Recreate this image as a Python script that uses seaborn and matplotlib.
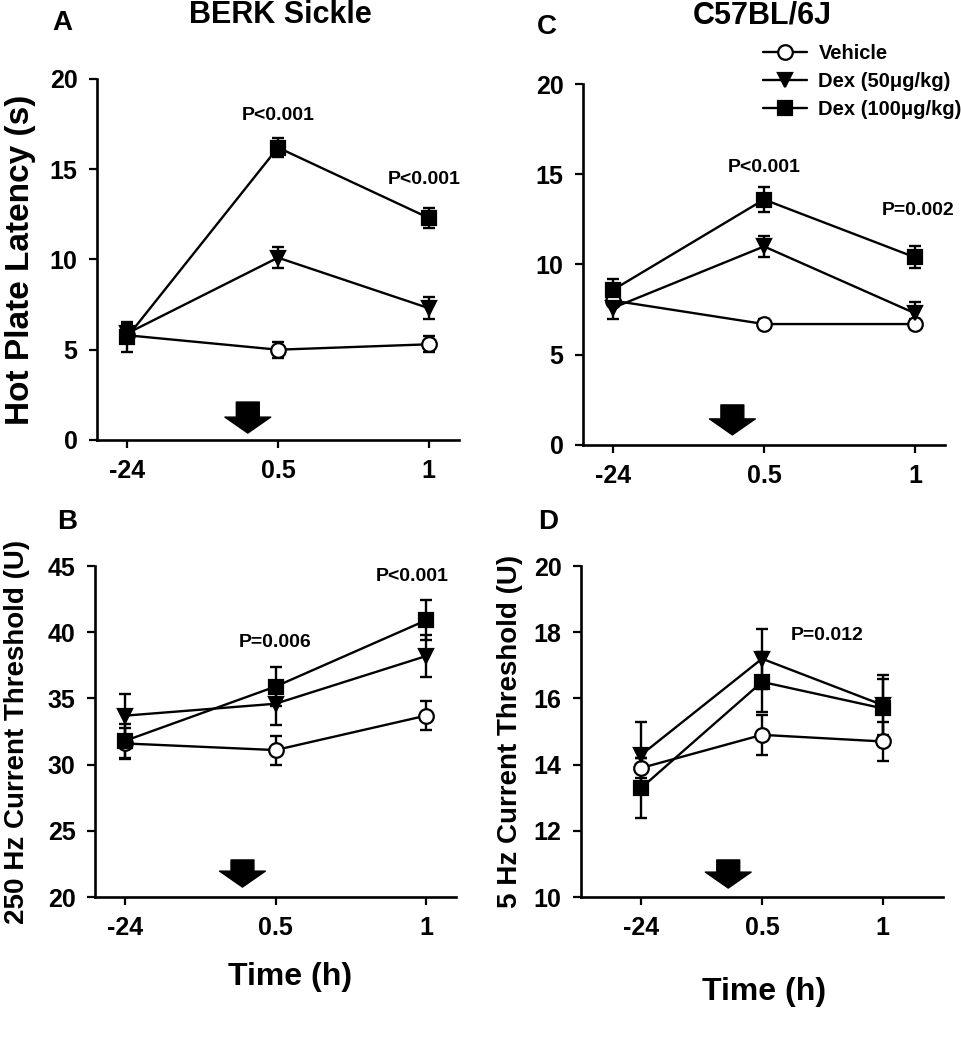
import numpy as np
import pandas as pd
import seaborn as sns
import matplotlib
matplotlib.use("Agg")
import matplotlib.pyplot as plt
from matplotlib.lines import Line2D

# ---------------- data ----------------
time_labels = ["-24", "0.5", "1"]
groups = ["Vehicle", "Dex (50μg/kg)", "Dex (100μg/kg)"]

# Panel A: BERK Sickle, hot plate latency (s)
a_vehicle = [5.8, 5.0, 5.3]
a_vehicle_err = [0.4, 0.45, 0.45]
a_dex50 = [5.9, 10.1, 7.3]
a_dex50_err = [0.5, 0.6, 0.6]
a_dex100 = [5.7, 16.2, 12.3]
a_dex100_err = [0.85, 0.55, 0.55]

# Panel C: C57BL/6J, hot plate latency (s)
c_vehicle = [8.0, 6.7, 6.7]
c_vehicle_err = [0.3, 0.3, 0.3]
c_dex50 = [7.6, 11.0, 7.3]
c_dex50_err = [0.6, 0.6, 0.6]
c_dex100 = [8.6, 13.6, 10.4]
c_dex100_err = [0.6, 0.7, 0.6]

# Panel B: BERK Sickle, 250 Hz current threshold (U)
b_vehicle = [31.6, 31.1, 33.7]
b_vehicle_err = [1.2, 1.1, 1.1]
b_dex50 = [33.7, 34.6, 38.2]
b_dex50_err = [1.6, 1.6, 1.6]
b_dex100 = [31.8, 35.9, 40.9]
b_dex100_err = [1.3, 1.5, 1.5]

# Panel D: C57BL/6J, 5 Hz current threshold (U)
d_vehicle = [13.9, 14.9, 14.7]
d_vehicle_err = [0.3, 0.6, 0.6]
d_dex50 = [14.3, 17.2, 15.8]
d_dex50_err = [1.0, 0.9, 0.9]
d_dex100 = [13.3, 16.5, 15.7]
d_dex100_err = [0.9, 0.9, 0.9]

# p-value annotations: (x position in category units, y value, text)
a_pvals = [(1.0, 18.0, "P<0.001"), (1.97, 14.45, "P<0.001")]
c_pvals = [(1.0, 15.35, "P<0.001"), (2.02, 13.0, "P=0.002")]
b_pvals = [(1.0, 39.2, "P=0.006"), (1.91, 44.2, "P<0.001")]
d_pvals = [(1.54, 17.9, "P=0.012")]

# ---------------- style ----------------
sns.set_theme(style="ticks")
plt.rcParams["font.family"] = ["Liberation Sans", "DejaVu Sans"]
plt.rcParams["font.weight"] = "bold"
plt.rcParams["axes.labelweight"] = "bold"
plt.rcParams["axes.titleweight"] = "bold"
plt.rcParams["text.color"] = "black"
plt.rcParams["axes.labelcolor"] = "black"
plt.rcParams["xtick.color"] = "black"
plt.rcParams["ytick.color"] = "black"
plt.rcParams["axes.edgecolor"] = "black"

markers = {"Vehicle": "o", "Dex (50μg/kg)": "v", "Dex (100μg/kg)": "s"}
faces = {"Vehicle": "white", "Dex (50μg/kg)": "black", "Dex (100μg/kg)": "black"}
msize = {"Vehicle": 10.5, "Dex (50μg/kg)": 10.5, "Dex (100μg/kg)": 10}


def make_df(vals, errs):
    rows = []
    for g, v, e in zip(groups, vals, errs):
        for i, t in enumerate(time_labels):
            rows.append({"pos": i, "time": t, "value": v[i], "err": e[i], "group": g})
    return pd.DataFrame(rows)


fig = plt.figure(figsize=(9.61, 10.5), dpi=100)

panels = [
    dict(rect=[0.1009, 0.5810, 0.3767, 0.3438],
         df=make_df([a_vehicle, a_dex50, a_dex100], [a_vehicle_err, a_dex50_err, a_dex100_err]),
         ylim=(0, 20), yticks=[0, 5, 10, 15, 20], xlim=(-0.2, 2.2),
         ylabel="Hot Plate Latency (s)", ylab_x=-0.21, ylab_size=24, xlabel=None,
         title="BERK Sickle", title_pos=(0.506, 1.177), letter="A", letter_pos=(-0.097, 1.155),
         arrow_x=0.8, arrow_y=(0.105, 0.019), pvals=a_pvals),
    dict(rect=[0.6067, 0.5762, 0.3767, 0.3438],
         df=make_df([c_vehicle, c_dex50, c_dex100], [c_vehicle_err, c_dex50_err, c_dex100_err]),
         ylim=(0, 20), yticks=[0, 5, 10, 15, 20], xlim=(-0.2, 2.2),
         ylabel=None, ylab_x=None, ylab_size=None, xlabel=None,
         title="C57BL/6J", title_pos=(0.494, 1.191), letter="C", letter_pos=(-0.099, 1.158),
         arrow_x=0.79, arrow_y=(0.111, 0.028), pvals=c_pvals),
    dict(rect=[0.0989, 0.1457, 0.3757, 0.3152],
         df=make_df([b_vehicle, b_dex50, b_dex100], [b_vehicle_err, b_dex50_err, b_dex100_err]),
         ylim=(20, 45), yticks=[20, 25, 30, 35, 40, 45], xlim=(-0.2, 2.2),
         ylabel="250 Hz Current Threshold (U)", ylab_x=-0.216, ylab_size=20,
         xlabel="Time (h)", xlab_pos=(0.54, -0.242),
         title=None, letter="B", letter_pos=(-0.078, 1.133),
         arrow_x=0.78, arrow_y=(0.112, 0.030), pvals=b_pvals),
    dict(rect=[0.6046, 0.1457, 0.3767, 0.3152],
         df=make_df([d_vehicle, d_dex50, d_dex100], [d_vehicle_err, d_dex50_err, d_dex100_err]),
         ylim=(10, 20), yticks=[10, 12, 14, 16, 18, 20], xlim=(-0.5, 2.5),
         ylabel="5 Hz Current Threshold (U)", ylab_x=-0.196, ylab_size=20,
         xlabel="Time (h)", xlab_pos=(0.506, -0.287),
         title=None, letter="D", letter_pos=(-0.091, 1.133),
         arrow_x=0.72, arrow_y=(0.112, 0.027), pvals=d_pvals),
]

for p in panels:
    ax = fig.add_axes(p["rect"])
    df = p["df"]
    for g in groups:
        sub = df[df["group"] == g]
        ax.errorbar(sub["pos"], sub["value"], yerr=sub["err"], fmt="none",
                    ecolor="black", elinewidth=1.7, capsize=4.5, capthick=1.7, zorder=2)
    for g in groups:
        sub = df[df["group"] == g]
        sns.lineplot(data=sub, x="pos", y="value", ax=ax, color="black",
                     marker=markers[g], markersize=msize[g], markerfacecolor=faces[g],
                     markeredgecolor="black", markeredgewidth=1.6, linewidth=1.7,
                     errorbar=None, legend=False, zorder=3)

    ax.set_xlim(*p["xlim"])
    ax.set_ylim(*p["ylim"])
    ax.set_xticks(range(len(time_labels)))
    ax.set_xticklabels(time_labels)
    ax.set_yticks(p["yticks"])
    ax.tick_params(axis="both", direction="out", length=6, width=1.6,
                   labelsize=18, pad=8, colors="black")
    for lab in ax.get_xticklabels() + ax.get_yticklabels():
        lab.set_fontweight("bold")
    sns.despine(ax=ax)
    for s in ["left", "bottom"]:
        ax.spines[s].set_linewidth(1.9)
        ax.spines[s].set_color("black")

    if p["ylabel"]:
        ax.set_ylabel(p["ylabel"], fontsize=p["ylab_size"], fontweight="bold", va="center")
        ax.yaxis.set_label_coords(p["ylab_x"], 0.5)
    else:
        ax.set_ylabel("")
    if p["xlabel"]:
        ax.set_xlabel(p["xlabel"], fontsize=23, fontweight="bold", va="center")
        ax.xaxis.set_label_coords(*p["xlab_pos"])
    else:
        ax.set_xlabel("")

    if p["title"]:
        ax.text(*p["title_pos"], p["title"], transform=ax.transAxes, ha="center",
                va="center", fontsize=22, fontweight="bold")
    ax.text(*p["letter_pos"], p["letter"], transform=ax.transAxes, ha="center",
            va="center", fontsize=20, fontweight="bold")

    for (px, py, s) in p["pvals"]:
        ax.text(px, py, s, ha="center", va="center", fontsize=14, fontweight="bold")

    ax.annotate("", xy=(p["arrow_x"], p["arrow_y"][1]), xytext=(p["arrow_x"], p["arrow_y"][0]),
                xycoords=("data", "axes fraction"), textcoords=("data", "axes fraction"),
                arrowprops=dict(arrowstyle="simple,head_length=1.15,head_width=3.3,tail_width=1.65",
                                mutation_scale=10, color="black", shrinkA=0, shrinkB=0))

handles = [Line2D([], [], color="black", marker=markers[g], markersize=msize[g],
                  markerfacecolor=faces[g], markeredgecolor="black", markeredgewidth=1.6,
                  linewidth=1.7) for g in groups]
fig.legend(handles, groups, loc="upper left", bbox_to_anchor=(0.794, 0.958),
           frameon=False, borderpad=0, borderaxespad=0, handlelength=2.2,
           handletextpad=0.55, labelspacing=0.45, prop=dict(weight="bold", size=14.5))

fig.savefig("out.png", dpi=100)
